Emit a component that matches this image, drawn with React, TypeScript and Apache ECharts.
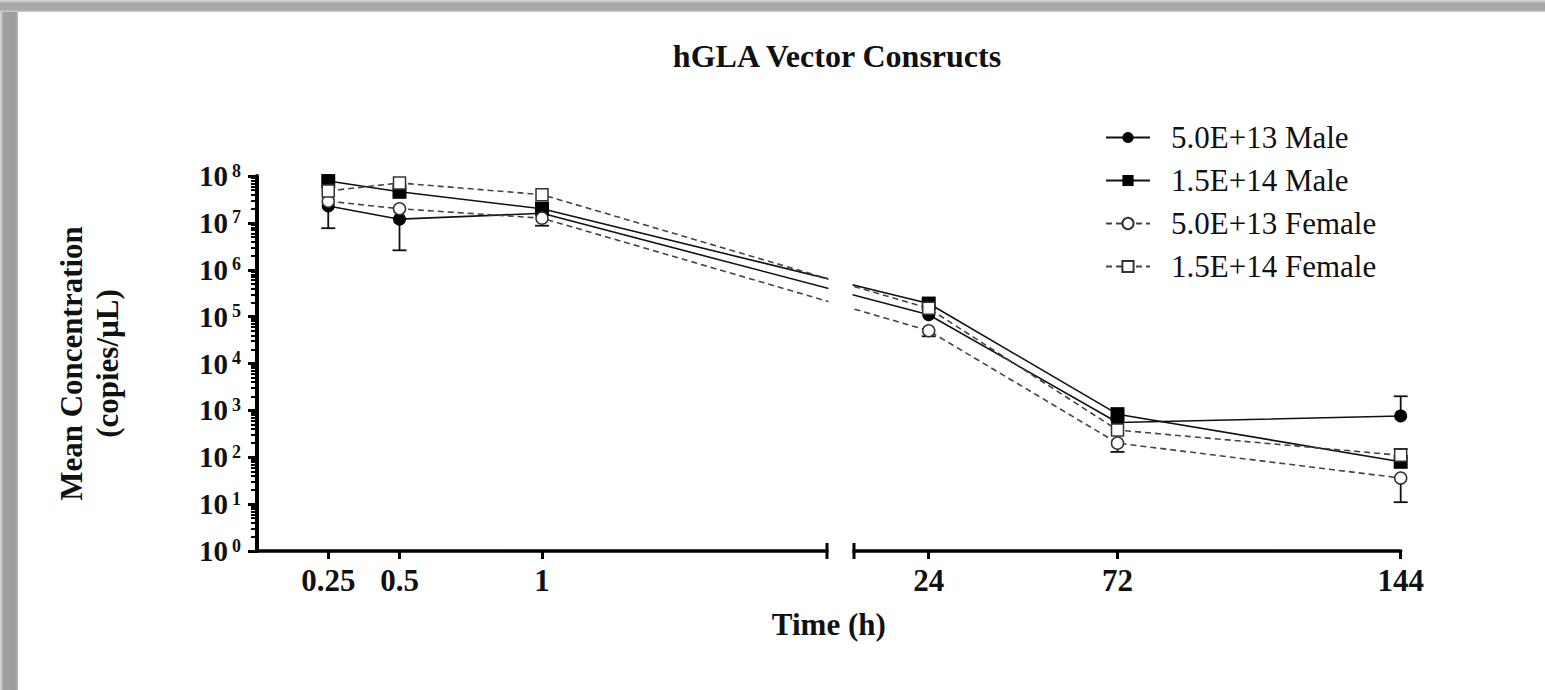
import React, { useEffect, useRef } from 'react';
import * as echarts from 'echarts';

// ---------- data ----------
const timeLabels = ['0.25', '0.5', '1', '24', '72', '144'];
const times = [0.25, 0.5, 1, 24, 72, 144];
const yPowers = [0, 1, 2, 3, 4, 5, 6, 7, 8];
const seriesNames = ['5.0E+13 Male', '1.5E+14 Male', '5.0E+13 Female', '1.5E+14 Female'];

const male5e13 = [2.3e7, 1.2e7, 1.6e7, 1.1e5, 550, 760];
const male15e14 = [7.8e7, 4.6e7, 2.0e7, 1.9e5, 830, 80];
const female5e13 = [2.9e7, 2.0e7, 1.26e7, 5.0e4, 200, 36];
const female15e14 = [4.8e7, 7.1e7, 4.0e7, 1.5e5, 380, 110];

// visible error-bar ends (null = hidden behind marker)
const male5e13Low = [7.7e6, 2.6e6, null, null, null, null];
const male5e13High = [null, null, null, null, null, 2000];
const female5e13Low = [null, null, 8.7e6, 3.8e4, 130, 11];
const female15e14High = [null, null, null, null, null, 150];

// ---------- broken x-axis scale ----------
const LEFT_END_H = 2;
const RIGHT_START_H = 5;
const PX_PER_UNIT = 285;
const GAP_UNITS = 27 / PX_PER_UNIT;
const RIGHT_RATIO = 3.933 / PX_PER_UNIT;
const toAxis = (t: number) =>
  t <= LEFT_END_H ? t : LEFT_END_H + GAP_UNITS + (t - RIGHT_START_H) * RIGHT_RATIO;

const FONT = '"Liberation Serif", "Times New Roman", serif';
const GRID_LEFT = 257;
const GRID_TOP = 176;
const GRID_BOTTOM = 139;
const W = 1545;
const H = 690;

export default function App() {
  const ref = useRef<HTMLDivElement>(null);

  useEffect(() => {
    if (!ref.current) return;
    const chart = echarts.init(ref.current, undefined, { renderer: 'svg' });
    const xMax = toAxis(144);
    const gridRight = W - (GRID_LEFT + xMax * PX_PER_UNIT);
    const tickU = times.map(toAxis);
    const labelFor = (v: number) => {
      const i = tickU.findIndex((u) => Math.abs(u - v) < 1e-6);
      return i >= 0 ? timeLabels[i] : '';
    };
    const minorLogs: number[] = [];
    yPowers.slice(0, -1).forEach((p) => {
      for (let k = 2; k <= 9; k++) minorLogs.push(p + Math.log10(k));
    });

    const mk = (vals: number[]) => times.map((t, i) => [toAxis(t), vals[i]]);
    const errData: any[] = [];
    const addErr = (vals: number[], lo: (number | null)[], hi: (number | null)[]) => {
      times.forEach((t, i) => {
        if (lo[i] != null || hi[i] != null) errData.push([toAxis(t), vals[i], lo[i], hi[i]]);
      });
    };
    const nulls = times.map(() => null);
    addErr(male5e13, male5e13Low, male5e13High);
    addErr(female5e13, female5e13Low, nulls);
    addErr(female15e14, nulls, female15e14High);

    const solid = { color: '#111', width: 1.6, type: 'solid' };
    const dashed = { color: '#444', width: 1.6, type: [6, 4] };

    const option: any = {
      animation: false,
      backgroundColor: '#fff',
      title: {
        text: 'hGLA Vector Consructs',
        left: 832,
        textAlign: 'center',
        top: 35,
        textStyle: { fontFamily: FONT, fontWeight: 'bold', fontSize: 32, color: '#111' },
      },
      legend: {
        orient: 'vertical',
        left: 1105,
        top: 122,
        padding: 0,
        itemWidth: 44,
        itemHeight: 14,
        itemGap: 12,
        data: seriesNames,
        textStyle: { fontFamily: FONT, fontSize: 31, color: '#111', lineHeight: 30, padding: [0, 0, 0, 16] },
      },
      grid: { left: GRID_LEFT, top: GRID_TOP, bottom: GRID_BOTTOM, right: gridRight, containLabel: false },
      xAxis: {
        type: 'value',
        min: 0,
        max: xMax,
        splitLine: { show: false },
        axisLine: { lineStyle: { color: '#000', width: 3.5 } },
        axisTick: { customValues: tickU, length: 8, lineStyle: { color: '#000', width: 3 } },
        axisLabel: {
          customValues: tickU,
          formatter: (v: number) => labelFor(v),
          fontFamily: FONT,
          fontWeight: 'bold',
          fontSize: 31,
          color: '#111',
          margin: 14,
        },
        name: 'Time (h)',
        nameLocation: 'middle',
        nameGap: 58,
        nameTextStyle: { fontFamily: FONT, fontWeight: 'bold', fontSize: 31, color: '#111' },
      },
      yAxis: [
        {
          type: 'log',
          logBase: 10,
          min: 1,
          max: 1e8,
          splitNumber: 8,
          splitLine: { show: false },
          axisLine: { show: true, lineStyle: { color: '#000', width: 4 } },
          axisTick: { length: 9, lineStyle: { color: '#000', width: 3 } },
          axisLabel: {
            margin: 16,
            formatter: (v: number) => `{b|10}{s|${Math.round(Math.log10(v))}}`,
            rich: {
              b: { fontFamily: FONT, fontWeight: 'bold', fontSize: 29, color: '#111' },
              s: { fontFamily: FONT, fontWeight: 'bold', fontSize: 18, color: '#111', verticalAlign: 'top', padding: [0, 0, 0, 4] },
            },
          },
          name: 'Mean Concentration\n(copies/µL)',
          nameLocation: 'middle',
          nameGap: 132,
          nameTextStyle: { fontFamily: FONT, fontWeight: 'bold', fontSize: 31, color: '#111', lineHeight: 36 },
        },
        {
          type: 'value',
          min: 0,
          max: 8,
          position: 'left',
          axisLine: { show: false },
          axisLabel: { show: false },
          splitLine: { show: false },
          axisTick: { show: true, customValues: minorLogs, length: 6, lineStyle: { color: '#000', width: 2 } },
        },
      ],
      series: [
        {
          type: 'custom',
          name: 'err',
          z: 1,
          encode: { x: 0, y: 1 },
          data: errData,
          renderItem: (params: any, api: any) => {
            const x = api.value(0);
            const m = api.value(1);
            const lo = api.value(2);
            const hi = api.value(3);
            const pm = api.coord([x, m]);
            const style = { stroke: '#111', lineWidth: 1.8 };
            const half = 7;
            const children: any[] = [];
            [lo, hi].forEach((e) => {
              if (e > 0) {
                const p = api.coord([x, e]);
                children.push({ type: 'line', shape: { x1: pm[0], y1: pm[1], x2: p[0], y2: p[1] }, style });
                children.push({ type: 'line', shape: { x1: p[0] - half, y1: p[1], x2: p[0] + half, y2: p[1] }, style });
              }
            });
            return { type: 'group', children };
          },
        },
        {
          name: seriesNames[0],
          type: 'line',
          z: 3,
          data: mk(male5e13),
          symbol: 'circle',
          symbolSize: 13,
          itemStyle: { color: '#000' },
          lineStyle: solid,
        },
        {
          name: seriesNames[1],
          type: 'line',
          z: 3,
          data: mk(male15e14),
          symbol: 'rect',
          symbolSize: 14,
          itemStyle: { color: '#000' },
          lineStyle: solid,
        },
        {
          name: seriesNames[2],
          type: 'line',
          z: 4,
          data: mk(female5e13),
          symbol: 'circle',
          symbolSize: 12,
          itemStyle: { color: '#fff', borderColor: '#333', borderWidth: 1.5 },
          lineStyle: dashed,
        },
        {
          name: seriesNames[3],
          type: 'line',
          z: 4,
          data: mk(female15e14),
          symbol: 'rect',
          symbolSize: 12,
          itemStyle: { color: '#fff', borderColor: '#333', borderWidth: 1.5 },
          lineStyle: dashed,
        },
      ],
    };
    chart.setOption(option);

    const xl = chart.convertToPixel({ xAxisIndex: 0 }, LEFT_END_H) as number;
    const xr = chart.convertToPixel({ xAxisIndex: 0 }, LEFT_END_H + GAP_UNITS) as number;
    const yAx = H - GRID_BOTTOM;
    chart.setOption({
      graphic: [
        {
          type: 'rect',
          z: 100,
          shape: { x: xl + 1.5, y: GRID_TOP - 20, width: xr - xl - 3, height: yAx - GRID_TOP + 26 },
          style: { fill: '#fff' },
        },
        { type: 'line', z: 101, shape: { x1: xl, y1: yAx - 8, x2: xl, y2: yAx + 8 }, style: { stroke: '#000', lineWidth: 3 } },
        { type: 'line', z: 101, shape: { x1: xr, y1: yAx - 8, x2: xr, y2: yAx + 8 }, style: { stroke: '#000', lineWidth: 3 } },
        {
          type: 'rect',
          z: 50,
          shape: { x: 0, y: 0, width: 18, height: H },
          style: {
            fill: new echarts.graphic.LinearGradient(0, 0, 1, 0, [
              { offset: 0, color: '#dcdcdc' },
              { offset: 0.2, color: '#a0a0a0' },
              { offset: 0.85, color: '#9c9c9c' },
              { offset: 1, color: '#bcbcbc' },
            ]),
          },
        },
        {
          type: 'rect',
          z: 50,
          shape: { x: 0, y: 0, width: W, height: 12 },
          style: {
            fill: new echarts.graphic.LinearGradient(0, 0, 0, 1, [
              { offset: 0, color: '#dcdcdc' },
              { offset: 0.3, color: '#a6a6a6' },
              { offset: 0.8, color: '#a6a6a6' },
              { offset: 1, color: '#d0d0d0' },
            ]),
          },
        },
      ],
    });

    return () => chart.dispose();
  }, []);

  return (
    <div
      ref={ref}
      style={{ position: 'fixed', left: 0, top: 0, width: W, height: H, background: '#fff' }}
    />
  );
}
